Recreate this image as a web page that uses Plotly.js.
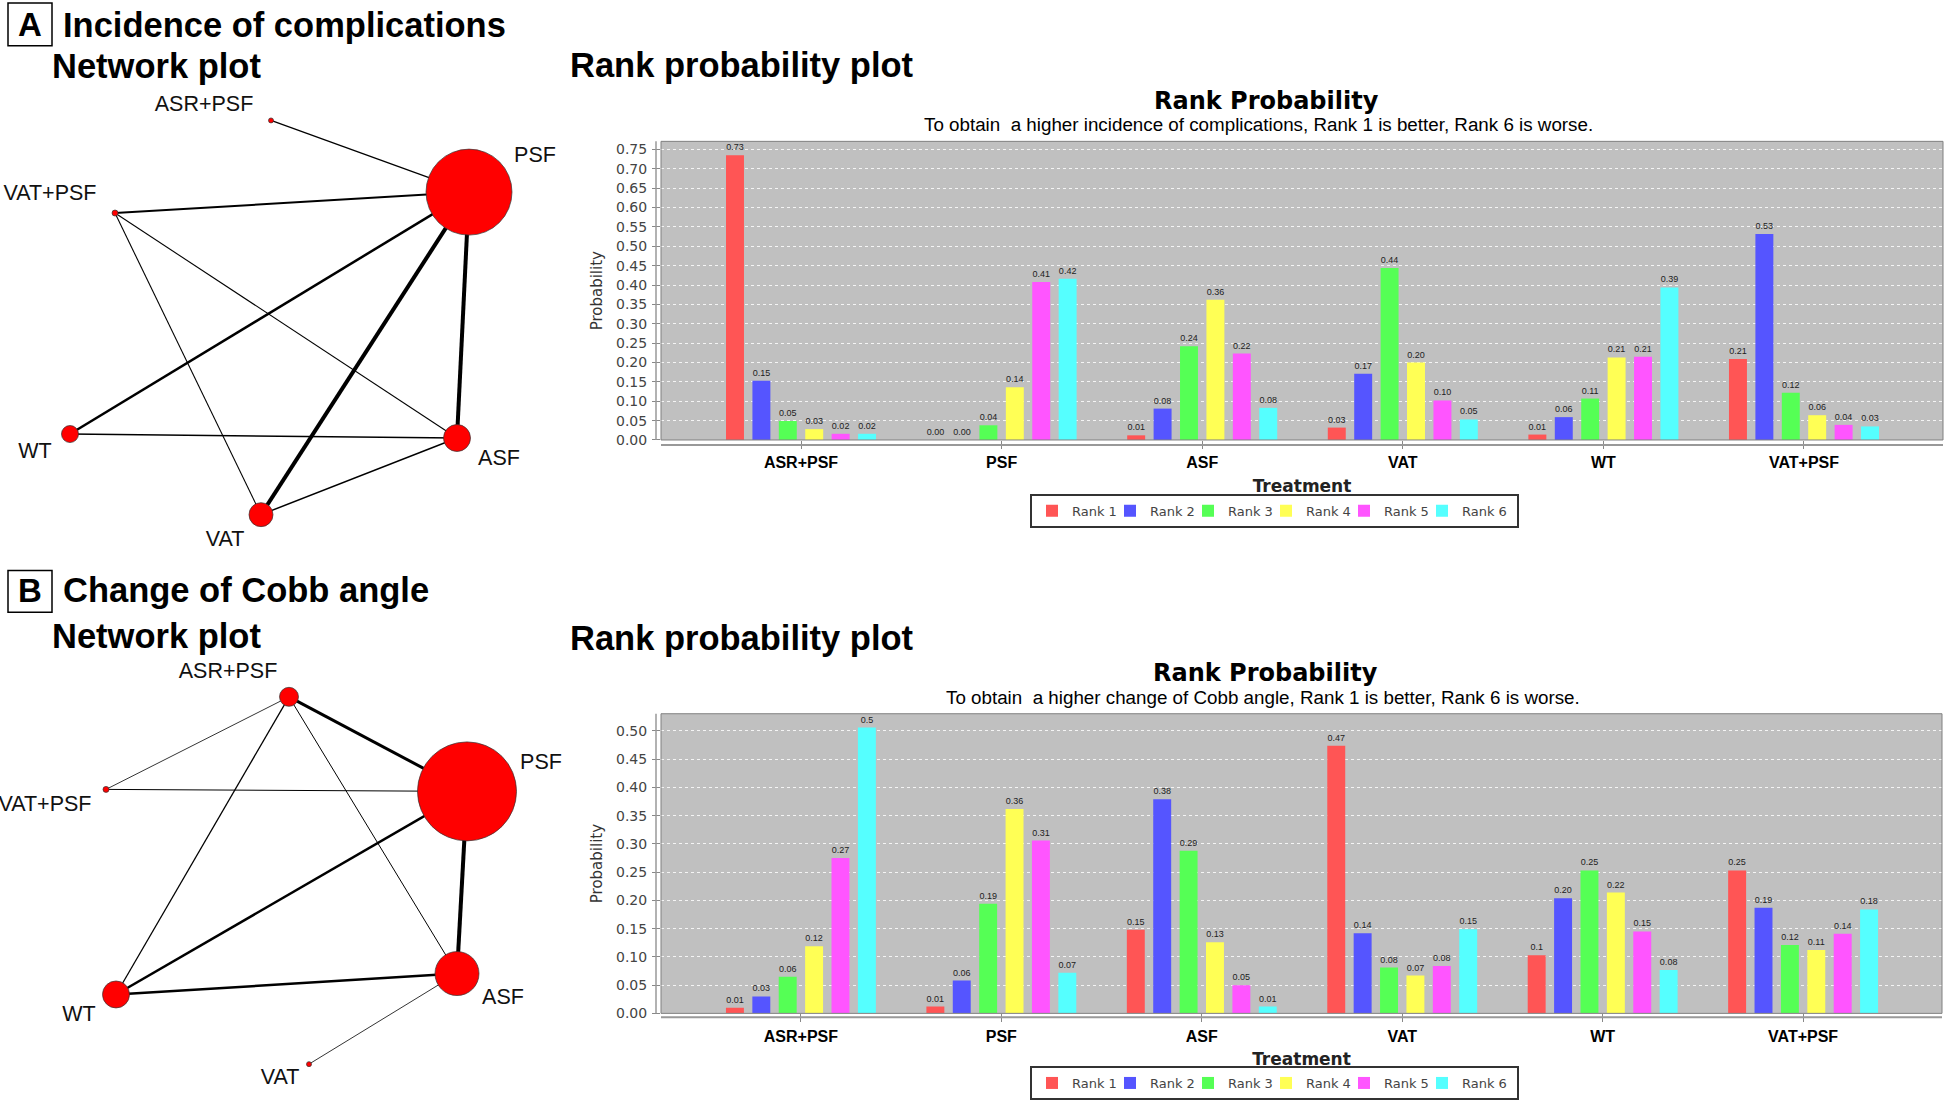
<!DOCTYPE html>
<html><head><meta charset="utf-8">
<script src="https://cdn.plot.ly/plotly-3.0.1.min.js"></script>
<style>html,body{margin:0;padding:0;background:#fff}#chart{width:1946px;height:1100px}</style>
</head><body><div id="chart"></div>
<script>
// ---------- shared ----------
const treatments = ['ASR+PSF','PSF','ASF','VAT','WT','VAT+PSF'];
const rankNames = ['Rank 1','Rank 2','Rank 3','Rank 4','Rank 5','Rank 6'];
const rankColors = ['#FF5555','#5555FF','#55FF55','#FFFF55','#FF55FF','#55FFFF'];

// ---------- Panel A: incidence of complications (values per treatment, one array per rank) ----------
const compRank1 = [0.735,0.000,0.012,0.032,0.014,0.209];
const compRank2 = [0.153,0.000,0.081,0.171,0.059,0.532];
const compRank3 = [0.049,0.038,0.242,0.444,0.107,0.122];
const compRank4 = [0.028,0.136,0.362,0.200,0.213,0.064];
const compRank5 = [0.016,0.408,0.223,0.102,0.215,0.039];
const compRank6 = [0.016,0.416,0.083,0.053,0.394,0.035];
const compLabel1 = ['0.73','0.00','0.01','0.03','0.01','0.21'];
const compLabel2 = ['0.15','0.00','0.08','0.17','0.06','0.53'];
const compLabel3 = ['0.05','0.04','0.24','0.44','0.11','0.12'];
const compLabel4 = ['0.03','0.14','0.36','0.20','0.21','0.06'];
const compLabel5 = ['0.02','0.41','0.22','0.10','0.21','0.04'];
const compLabel6 = ['0.02','0.42','0.08','0.05','0.39','0.03'];

// ---------- Panel B: change of Cobb angle ----------
const cobbRank1 = [0.010,0.012,0.148,0.474,0.103,0.253];
const cobbRank2 = [0.030,0.058,0.379,0.142,0.204,0.187];
const cobbRank3 = [0.065,0.194,0.288,0.081,0.253,0.121];
const cobbRank4 = [0.119,0.362,0.126,0.067,0.214,0.112];
const cobbRank5 = [0.275,0.306,0.050,0.084,0.145,0.141];
const cobbRank6 = [0.506,0.072,0.012,0.149,0.077,0.184];
const cobbLabel1 = ['0.01','0.01','0.15','0.47','0.1','0.25'];
const cobbLabel2 = ['0.03','0.06','0.38','0.14','0.20','0.19'];
const cobbLabel3 = ['0.06','0.19','0.29','0.08','0.25','0.12'];
const cobbLabel4 = ['0.12','0.36','0.13','0.07','0.22','0.11'];
const cobbLabel5 = ['0.27','0.31','0.05','0.08','0.15','0.14'];
const cobbLabel6 = ['0.5','0.07','0.01','0.15','0.08','0.18'];

// ---------- Network A (layout coordinates within the panel) ----------
const netA_nodes = ['ASR+PSF','PSF','VAT+PSF','WT','ASF','VAT'];
const netA_x = [271,469,115,70,457,261];
const netA_y = [121,193,214,436,440,517];
const netA_size = [5,86,6,17,27,24];
const netA_labelX = [204,535,50,35,499,225];
const netA_labelY = [106,157,196,455,462,543];
const netA_edgeFrom = ['ASR+PSF','VAT+PSF','VAT+PSF','VAT+PSF','WT','WT','PSF','PSF','VAT'];
const netA_edgeTo   = ['PSF','PSF','VAT','ASF','PSF','ASF','VAT','ASF','ASF'];
const netA_edgeWidth = [1.3,2,1.1,1.1,2.5,1.5,4,4,1.5];

// ---------- Network B ----------
const netB_nodes = ['ASR+PSF','PSF','VAT+PSF','WT','ASF','VAT'];
const netB_x = [289,467,106,116,457,309];
const netB_y = [130,225,223,429,408,499];
const netB_size = [19,99,6,27,44,5];
const netB_labelX = [228,541,45,79,503,280];
const netB_labelY = [106,197,239,450,433,514];
const netB_edgeFrom = ['ASR+PSF','ASR+PSF','ASR+PSF','ASR+PSF','VAT+PSF','PSF','PSF','WT','ASF'];
const netB_edgeTo   = ['PSF','VAT+PSF','WT','ASF','PSF','WT','ASF','ASF','VAT'];
const netB_edgeWidth = [3,0.8,1.3,1,1,2.5,4,2.5,0.8];

// ---------- helpers ----------
const W = 1946, H = 1100;
const PX = x => x / W;
const PY = y => 1 - y / H;

const traces = [];
function addBars(rows, labels, xa, ya, leg) {
  rows.forEach((vals, i) => {
    const t = {
      type: 'bar', x: treatments, y: vals, name: rankNames[i],
      xaxis: xa, yaxis: ya, legend: leg,
      marker: {color: rankColors[i], line: {width: 0}},
      text: labels[i], textposition: 'outside', textangle: 0,
      constraintext: 'none', cliponaxis: false,
      textfont: {family: 'Liberation Sans, Arial, sans-serif', size: 9, color: '#222'},
      hoverinfo: 'x+y+name'
    };
    if (i === rows.length - 1) t.legendwidth = 50;
    traces.push(t);
  });
}
addBars([compRank1,compRank2,compRank3,compRank4,compRank5,compRank6],
        [compLabel1,compLabel2,compLabel3,compLabel4,compLabel5,compLabel6], 'x', 'y', 'legend');
addBars([cobbRank1,cobbRank2,cobbRank3,cobbRank4,cobbRank5,cobbRank6],
        [cobbLabel1,cobbLabel2,cobbLabel3,cobbLabel4,cobbLabel5,cobbLabel6], 'x2', 'y2', 'legend2');

function addNetwork(nodes, nx, ny, ns, lx, ly, ef, et, ew, xa, ya) {
  ef.forEach((f, k) => {
    const a = nodes.indexOf(f), b = nodes.indexOf(et[k]);
    traces.push({
      type: 'scatter', mode: 'lines', x: [nx[a], nx[b]], y: [ny[a], ny[b]],
      xaxis: xa, yaxis: ya, showlegend: false, hoverinfo: 'skip',
      line: {color: '#000', width: ew[k]}
    });
  });
  traces.push({
    type: 'scatter', mode: 'markers', x: nx, y: ny, text: nodes,
    xaxis: xa, yaxis: ya, showlegend: false, hoverinfo: 'text', cliponaxis: false,
    marker: {size: ns, color: '#FF0000', opacity: 1, line: {color: '#333', width: 0.7}}
  });
  traces.push({
    type: 'scatter', mode: 'text', x: lx, y: ly, text: nodes,
    xaxis: xa, yaxis: ya, showlegend: false, hoverinfo: 'skip', cliponaxis: false,
    textposition: 'middle center',
    textfont: {family: 'Liberation Sans, Arial, sans-serif', size: 21.5, color: '#111'}
  });
}
addNetwork(netA_nodes, netA_x, netA_y, netA_size, netA_labelX, netA_labelY,
           netA_edgeFrom, netA_edgeTo, netA_edgeWidth, 'x3', 'y3');
addNetwork(netB_nodes, netB_x, netB_y, netB_size, netB_labelX, netB_labelY,
           netB_edgeFrom, netB_edgeTo, netB_edgeWidth, 'x4', 'y4');

// ---------- layout ----------
const plotA = {l: 661, r: 1943, t: 142, b: 442};
const plotB = {l: 661, r: 1942, t: 717, b: 1018};

const catRange = [-0.698, 5.693];
const tickFont = {family: 'DejaVu Sans, sans-serif', size: 14, color: '#444'};
const catFont = {family: 'Liberation Sans, Arial, sans-serif', size: 16, color: '#000', weight: 'bold'};

function xAxis(p, anchor) {
  return {
    domain: [PX(p.l), PX(p.r)], anchor: anchor, type: 'category', range: catRange,
    showgrid: false, zeroline: false, showline: false,
    ticks: 'outside', ticklen: 8, tickcolor: '#888', tickwidth: 1,
    tickfont: catFont, fixedrange: true,
    title: {text: '<b>Treatment</b>', standoff: 9,
            font: {family: 'DejaVu Sans, sans-serif', size: 17, color: '#222'}}
  };
}
function yAxis(p, anchor, top) {
  return {
    domain: [PY(p.b), PY(p.t)], anchor: anchor, range: [0, top],
    tick0: 0, dtick: 0.05, tickformat: '.2f',
    showgrid: true, gridcolor: '#F4F4F4', gridwidth: 1, griddash: 'dot',
    zeroline: false, showline: false,
    ticks: 'outside', ticklen: 8, tickcolor: '#888', ticklabelstandoff: 2,
    tickfont: tickFont, fixedrange: true,
    title: {text: 'Probability', standoff: 9,
            font: {family: 'DejaVu Sans, sans-serif', size: 15, color: '#333'}}
  };
}
const netDomX = [0, PX(560)];

const ann = [];
function txt(text, x, y, size, opts) {
  ann.push(Object.assign({
    text: text, x: PX(x), y: PY(y), xref: 'paper', yref: 'paper',
    showarrow: false, xanchor: 'left', yanchor: 'middle',
    font: {family: 'Liberation Sans, Arial, sans-serif', size: size, color: '#000'}
  }, opts || {}));
}
// panel headings
txt('<b>A</b>', 30, 25, 33, {xanchor: 'center'});
txt('<b>Incidence of complications</b>', 61, 25, 34.5);
txt('<b>Network plot</b>', 50, 66, 34.5);
txt('<b>Rank probability plot</b>', 568, 65, 34.5);
txt('<b>B</b>', 30, 593, 33, {xanchor: 'center'});
txt('<b>Change of Cobb angle</b>', 61, 593, 34.5);
txt('<b>Network plot</b>', 50, 639, 34.5);
txt('<b>Rank probability plot</b>', 568, 641, 34.5);
// chart titles
const titleFont = {family: 'DejaVu Sans, sans-serif', size: 24, color: '#000'};
txt('<b>Rank Probability</b>', 1266, 101, 24, {xanchor: 'center', font: titleFont});
txt('To obtain  a higher incidence of complications, Rank 1 is better, Rank 6 is worse.', 1258, 125, 18.8, {xanchor: 'center'});
txt('<b>Rank Probability</b>', 1265, 676, 24, {xanchor: 'center', font: titleFont});
txt('To obtain  a higher change of Cobb angle, Rank 1 is better, Rank 6 is worse.', 1263, 701, 18.8, {xanchor: 'center'});

const shapes = [];
function frame(p, xa, ya, axisLineY) {
  shapes.push({type: 'rect', xref: xa + ' domain', yref: ya + ' domain', x0: 0, x1: 1, y0: 0, y1: 1,
               line: {width: 0}, fillcolor: '#C0C0C0', layer: 'below'});
  shapes.push({type: 'rect', xref: xa + ' domain', yref: ya + ' domain', x0: 0, x1: 1, y0: 0, y1: 1,
               line: {color: '#808080', width: 1}, fillcolor: 'rgba(0,0,0,0)', layer: 'above'});
  shapes.push({type: 'line', xref: 'paper', yref: 'paper', x0: PX(p.l), x1: PX(p.r), y0: PY(axisLineY), y1: PY(axisLineY),
               line: {color: '#999', width: 2}});
  shapes.push({type: 'line', xref: 'paper', yref: 'paper', x0: PX(p.l - 5), x1: PX(p.l - 5), y0: PY(p.t), y1: PY(p.b),
               line: {color: '#999', width: 1.5}});
}
frame(plotA, 'x', 'y', 447);
frame(plotB, 'x2', 'y2', 1022);
// letter boxes
shapes.push({type: 'rect', xref: 'paper', yref: 'paper', x0: PX(8), x1: PX(52), y0: PY(46), y1: PY(3), line: {color: '#000', width: 1.5}});
shapes.push({type: 'rect', xref: 'paper', yref: 'paper', x0: PX(8), x1: PX(52), y0: PY(615), y1: PY(573), line: {color: '#000', width: 1.5}});

const legendCommon = {
  orientation: 'h', xanchor: 'left', yanchor: 'top',
  bgcolor: '#FFFFFF', bordercolor: '#333', borderwidth: 2,
  font: {family: 'DejaVu Sans, sans-serif', size: 13, color: '#444'},
  itemwidth: 30, entrywidthmode: 'pixels', entrywidth: 33,
  traceorder: 'normal', itemclick: false, itemdoubleclick: false
};

const layout = {
  width: W, height: H, margin: {l: 0, r: 0, t: 0, b: 0},
  paper_bgcolor: '#FFFFFF', plot_bgcolor: 'rgba(0,0,0,0)',
  font: {family: 'Liberation Sans, Arial, sans-serif', color: '#000'},
  barmode: 'group', bargap: 0.21, bargroupgap: 0.32,
  showlegend: true,
  legend: Object.assign({x: PX(1030), y: PY(496)}, legendCommon),
  legend2: Object.assign({x: PX(1030), y: PY(1071)}, legendCommon),
  xaxis: xAxis(plotA, 'y'),
  yaxis: yAxis(plotA, 'x', 0.771),
  xaxis2: xAxis(plotB, 'y2'),
  yaxis2: yAxis(plotB, 'x2', 0.5305),
  xaxis3: {domain: netDomX, range: [0, 560], visible: false, fixedrange: true, anchor: 'y3'},
  yaxis3: {domain: [PY(560), 1], range: [560, 0], visible: false, fixedrange: true, anchor: 'x3'},
  xaxis4: {domain: netDomX, range: [0, 560], visible: false, fixedrange: true, anchor: 'y4'},
  yaxis4: {domain: [0, PY(570)], range: [530, 0], visible: false, fixedrange: true, anchor: 'x4'},
  annotations: ann, shapes: shapes
};

Plotly.newPlot('chart', traces, layout, {displayModeBar: false, responsive: false});
</script>
</body></html>
